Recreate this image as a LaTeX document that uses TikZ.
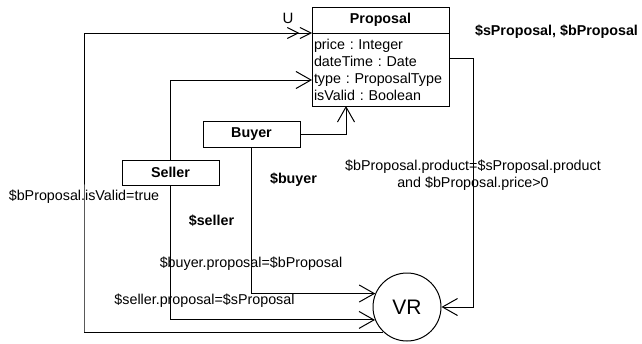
\documentclass[tikz,border=0pt]{standalone}
\usepackage{fontspec}
\setmainfont{Liberation Sans}
\usetikzlibrary{positioning}
\usetikzlibrary{arrows.meta}
\frenchspacing

\begin{document}
\begin{tikzpicture}[x=1pt,y=-1pt,
  every node/.style = {font=\fontsize{14.3}{17}\selectfont},
  class/.style = {shape=rectangle, draw, line width=1pt, inner sep=0pt, outer sep=0pt,
    font=\fontsize{14.3}{17}\selectfont\bfseries},
  var/.style = {font=\fontsize{14.3}{17}\selectfont\bfseries},
  link/.style = {draw, line width=1pt, -{Straight Barb[length=15pt,width=17pt]}},
  ulink/.style = {draw, line width=1pt,
    -{Straight Barb[length=11pt,width=11pt]Straight Barb[length=11pt,width=11pt]}}
  ]
  \useasboundingbox (0,0) rectangle (642,343);

  % class box with its attributes
  \node[class, minimum width=137pt, minimum height=26pt] (prophead) at (380.5,20) {Proposal};
  \node[class, below=0pt of prophead, minimum height=73pt, text width=133pt,
    inner xsep=2pt, align=left, font=\fontsize{14.3}{17}\selectfont] (attrs)
    {price : Integer\\dateTime : Date\\type : ProposalType\\isValid : Boolean};

  \node[class, minimum width=97pt, minimum height=26pt] (buyer) at (251.5,134) {Buyer};
  \node[class, minimum width=97pt, minimum height=25pt] (seller) at (170.5,172.5) {Seller};
  \node[shape=circle, draw, line width=1pt, minimum size=68pt, inner sep=0pt,
    font=\fontsize{21}{24}\selectfont] (vr) at (407,307) {VR};

  \coordinate (ucorner) at (84,332);
  \coordinate (rcorner) at (473,307);

  % connectors
  \draw[ulink] (vr.-133) -| (ucorner) |- (prophead.south west);
  \draw[link] (seller.north) |- ([yshift=-10.5pt]attrs.west);
  \draw[link] (buyer.east) -| ([xshift=-34.5pt]attrs.south);
  \draw[link] (seller.south) |- (vr.202.5);
  \draw[link] (buyer.south) |- (vr.157.5);
  \draw[link] ([yshift=11.5pt]attrs.east) -| (rcorner) -- (vr);

  % labels
  \node[font=\fontsize{15}{17}\selectfont] (lblu) at (288,18) {U};
  \node[var] (lblsets) at (556.5,32) {\$sProposal, \$bProposal};
  \node[align=center] (lblguard) at (473,175)
    {\$bProposal.product=\$sProposal.product\\and \$bProposal.price>0};
  \node[var] (lblbuyer) at (293.5,180) {\$buyer};
  \node[var] (lblseller) at (211.5,221) {\$seller};
  \node (lblvalid) at (84,197) {\$bProposal.isValid=true};
  \node (lblbprop) at (251,264) {\$buyer.proposal=\$bProposal};
  \node (lblsprop) at (204.5,301) {\$seller.proposal=\$sProposal};
\end{tikzpicture}
\end{document}
